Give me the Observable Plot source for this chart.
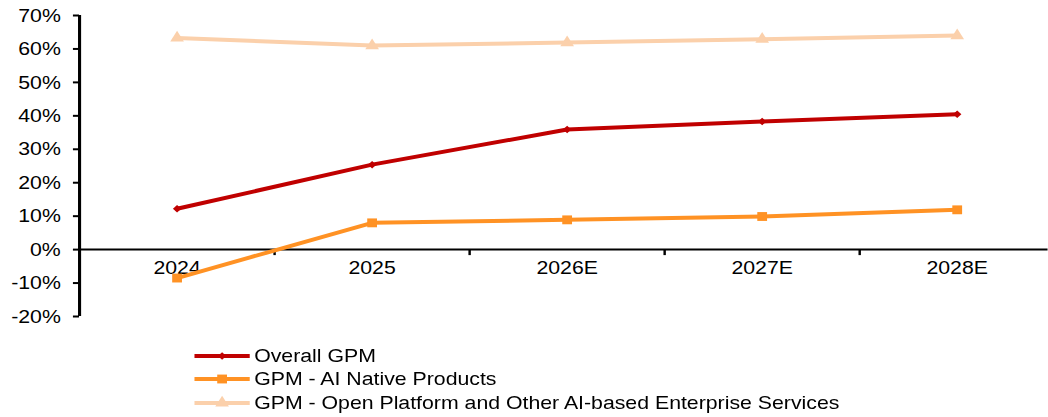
<!DOCTYPE html>
<html>
<head>
<meta charset="utf-8">
<script src="https://cdn.jsdelivr.net/npm/d3@7"></script>
<script src="https://cdn.jsdelivr.net/npm/@observablehq/plot@0.6"></script>
<style>
  html, body { margin: 0; padding: 0; background: #fff; overflow: hidden; }
  #chart {
    width: 948px;
    transform: scaleX(1.105);
    transform-origin: 0 0;
    font-family: "Liberation Sans", Arial, sans-serif;
  }
  .legend { margin-top: 14px; margin-left: 176px; font-size: 19.25px; color: #000; }
  .legend .row { display: flex; align-items: center; height: 23.5px; white-space: nowrap; }
  .legend svg { display: block; margin-right: 4px; overflow: visible; }
</style>
</head>
<body>
<div id="chart"></div>
<script>
// Categories (fiscal years, E = estimate)
const years = ["2024", "2025", "2026E", "2027E", "2028E"];

// Gross profit margin by segment
const overallGPM      = [0.122, 0.254, 0.359, 0.383, 0.405];
const aiNativeGPM     = [-0.085, 0.080, 0.089, 0.099, 0.119];
const openPlatformGPM = [0.633, 0.610, 0.619, 0.629, 0.640];

// Y axis ticks
const yTicks = [-0.2, -0.1, 0, 0.1, 0.2, 0.3, 0.4, 0.5, 0.6, 0.7];

// Series definitions
const seriesNames = [
  "Overall GPM",
  "GPM - AI Native Products",
  "GPM - Open Platform and Other AI-based Enterprise Services"
];
const seriesValues = [overallGPM, aiNativeGPM, openPlatformGPM];
const seriesColors = ["#C00000", "#FF9224", "#FBD0AB"];
const seriesSymbols = ["diamond2", "square", "triangle"];
const seriesR = [3.4, 5.0, 4.6];
const seriesWidth = [4, 4, 4];

const rows = seriesNames.flatMap((name, s) =>
  seriesValues[s].map((v, i) => ({ series: name, s, year: years[i], i, value: v }))
);

const pct = d => `${Math.round(d * 100)}%`;

const marks = [
  // axis lines
  Plot.ruleX([0], { y1: -0.2, y2: 0.7, stroke: "#000", strokeWidth: 2.8 }),
  Plot.ruleY([0], { x1: 0, x2: 5, stroke: "#000", strokeWidth: 2 }),
  // category boundary ticks hanging below the zero line
  Plot.ruleX([1, 2, 3, 4, 5], { y1: 0, y2: 0, insetBottom: -6, stroke: "#000", strokeWidth: 2.2 }),
  Plot.axisY({
    ticks: yTicks, tickFormat: pct, tickSize: 5.5, tickPadding: 11.5,
    fontSize: 19.25, stroke: "#000", strokeWidth: 2, fill: "#000", label: null
  }),
  // category labels sitting under the zero line
  Plot.text(years, { x: (d, i) => i + 0.5, y: 0, dy: 18, text: d => d, fontSize: 19.25, fill: "#000" })
];

seriesNames.forEach((name, s) => {
  const data = rows.filter(r => r.s === s);
  marks.push(
    Plot.line(data, { x: d => d.i + 0.5, y: "value", stroke: seriesColors[s], strokeWidth: seriesWidth[s] }),
    Plot.dot(data, { x: d => d.i + 0.5, y: "value", symbol: () => seriesSymbols[s], r: seriesR[s], fill: seriesColors[s], stroke: "none" })
  );
});

const plot = Plot.plot({
  width: 948,
  height: 330,
  marginLeft: 71.5,
  marginRight: -6,
  marginTop: 15,
  marginBottom: 14,
  x: { type: "linear", domain: [0, 5], axis: null },
  y: { domain: [-0.2, 0.7], axis: null },
  style: { fontFamily: "Liberation Sans, Arial, sans-serif", fontSize: "19.25px", color: "#000", background: "#fff" },
  marks
});

const chart = document.getElementById("chart");
chart.appendChild(plot);

// Legend below the plot
const legend = document.createElement("div");
legend.className = "legend";
const symbolTypes = { diamond2: d3.symbolDiamond2, square: d3.symbolSquare, triangle: d3.symbolTriangle };
seriesNames.forEach((name, s) => {
  const row = document.createElement("div");
  row.className = "row";
  const svg = d3.create("svg").attr("width", 50).attr("height", 14);
  svg.append("line").attr("x1", 0).attr("x2", 50).attr("y1", 7).attr("y2", 7)
    .attr("stroke", seriesColors[s]).attr("stroke-width", seriesWidth[s]);
  svg.append("path")
    .attr("d", d3.symbol(symbolTypes[seriesSymbols[s]], Math.PI * seriesR[s] * seriesR[s])())
    .attr("transform", "translate(25,7)")
    .attr("fill", seriesColors[s]);
  row.appendChild(svg.node());
  const label = document.createElement("span");
  label.textContent = name;
  row.appendChild(label);
  legend.appendChild(row);
});
chart.appendChild(legend);
</script>
</body>
</html>
